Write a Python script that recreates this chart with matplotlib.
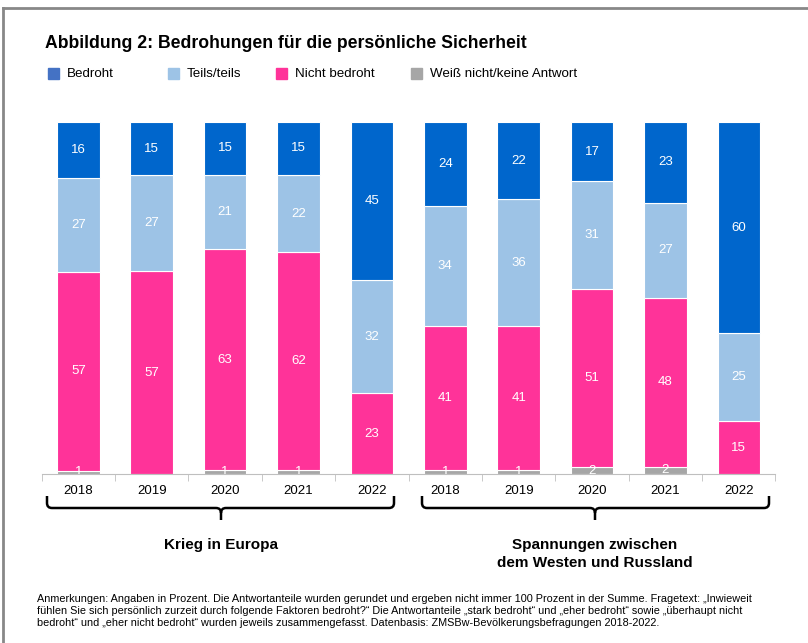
import matplotlib.pyplot as plt
from matplotlib.path import Path
from matplotlib.patches import PathPatch, Rectangle
import numpy as np

plt.rcParams['font.family'] = ['Liberation Sans', 'DejaVu Sans']

# data (percent)
years = ["2018", "2019", "2020", "2021", "2022", "2018", "2019", "2020", "2021", "2022"]
bedroht = [16, 15, 15, 15, 45, 24, 22, 17, 23, 60]
teils = [27, 27, 21, 22, 32, 34, 36, 31, 27, 25]
nicht_bedroht = [57, 57, 63, 62, 23, 41, 41, 51, 48, 15]
weiss_nicht = [1, 0, 1, 1, 0, 1, 1, 2, 2, 0]

series_names = ["Weiß nicht/keine Antwort", "Nicht bedroht", "Teils/teils", "Bedroht"]
bar_colors = ["#A6A6A6", "#FF3399", "#9DC3E6", "#0066CC"]
legend_order = ["Bedroht", "Teils/teils", "Nicht bedroht", "Weiß nicht/keine Antwort"]
legend_colors = ["#4472C4", "#9DC3E6", "#FF3399", "#A6A6A6"]
groups = ["Krieg in Europa", "Spannungen zwischen\ndem Westen und Russland"]

title = "Abbildung 2: Bedrohungen für die persönliche Sicherheit"
note = ("Anmerkungen: Angaben in Prozent. Die Antwortanteile wurden gerundet und ergeben nicht immer 100 Prozent in der Summe. Fragetext: „Inwieweit\n"
        "fühlen Sie sich persönlich zurzeit durch folgende Faktoren bedroht?“ Die Antwortanteile „stark bedroht“ und „eher bedroht“ sowie „überhaupt nicht\n"
        "bedroht“ und „eher nicht bedroht“ wurden jeweils zusammengefasst. Datenbasis: ZMSBw-Bevölkerungsbefragungen 2018-2022.")

W, H = 808, 643
fig = plt.figure(figsize=(W / 100, H / 100), dpi=100)

# overlay in pixel coordinates for frame, legend, braces and text
ov = fig.add_axes([0, 0, 1, 1], zorder=-1)
ov.set_xlim(0, W)
ov.set_ylim(H, 0)
ov.axis('off')

ax = fig.add_axes([41.7 / W, 1 - 474 / H, (775.5 - 41.7) / W, (474 - 122) / H])
ax.set_facecolor('none')

data = np.array([weiss_nicht, nicht_bedroht, teils, bedroht], dtype=float)
pct = data / data.sum(axis=0) * 100  # 100% stacked
x = np.arange(len(years))
bottom = np.zeros(len(years))
for vals, raw, col in zip(pct, data, bar_colors):
    ax.bar(x, vals, 0.58, bottom=bottom, color=col, edgecolor='white', linewidth=0.8)
    for xi, v, r, b in zip(x, vals, raw, bottom):
        if r > 0:
            ax.text(xi, b + v / 2, f"{int(r)}", ha='center', va='center',
                    color='white', fontsize=9.5, clip_on=True)
    bottom += vals

ax.set_xlim(-0.5, len(years) - 0.5)
ax.set_ylim(0, 100)
for s in ['top', 'right', 'left']:
    ax.spines[s].set_visible(False)
ax.spines['bottom'].set_color('#BFBFBF')
ax.set_yticks([])
ax.set_xticks(x)
ax.set_xticklabels(years, fontsize=9.5)
ax.tick_params(axis='x', which='major', length=0, pad=8)
ax.set_xticks(np.arange(-0.5, len(years)), minor=True)
ax.tick_params(axis='x', which='minor', length=5, color='#BFBFBF')

# frame
ov.plot([3, W], [8, 8], color='#888888', lw=2)
ov.plot([3, 3], [8, H], color='#888888', lw=2)

ov.text(45, 44, title, fontsize=12.7, fontweight='bold', va='center', ha='left')

# legend
for lx, name, col in zip([48, 168, 276, 411], legend_order, legend_colors):
    ov.add_patch(Rectangle((lx, 68), 11, 11, color=col))
    ov.text(lx + 19, 74, name, fontsize=9.6, va='center', ha='left')

# braces
def brace(x0, x1, xm, y0=496, y1=508, y2=520, r=5):
    verts = [(x0, y0), (x0, y1 - r), (x0, y1), (x0 + r, y1), (xm - r, y1), (xm, y1), (xm, y1 + r), (xm, y2),
             (x1, y0), (x1, y1 - r), (x1, y1), (x1 - r, y1), (xm + r, y1), (xm, y1), (xm, y1 + r)]
    codes = [Path.MOVETO, Path.LINETO, Path.CURVE3, Path.CURVE3, Path.LINETO, Path.CURVE3, Path.CURVE3, Path.LINETO,
             Path.MOVETO, Path.LINETO, Path.CURVE3, Path.CURVE3, Path.LINETO, Path.CURVE3, Path.CURVE3]
    ov.add_patch(PathPatch(Path(verts, codes), fill=False, lw=1.8, color='black'))

brace(47, 394, 221)
brace(422, 769, 595)

ov.text(221, 545, groups[0], fontsize=11, fontweight='bold', ha='center', va='center')
ov.text(595, 554, groups[1], fontsize=11, fontweight='bold', ha='center', va='center', linespacing=1.3)

ov.text(37, 611, note, fontsize=7.85, ha='left', va='center', linespacing=1.27)

fig.savefig("out.png", dpi=100)
